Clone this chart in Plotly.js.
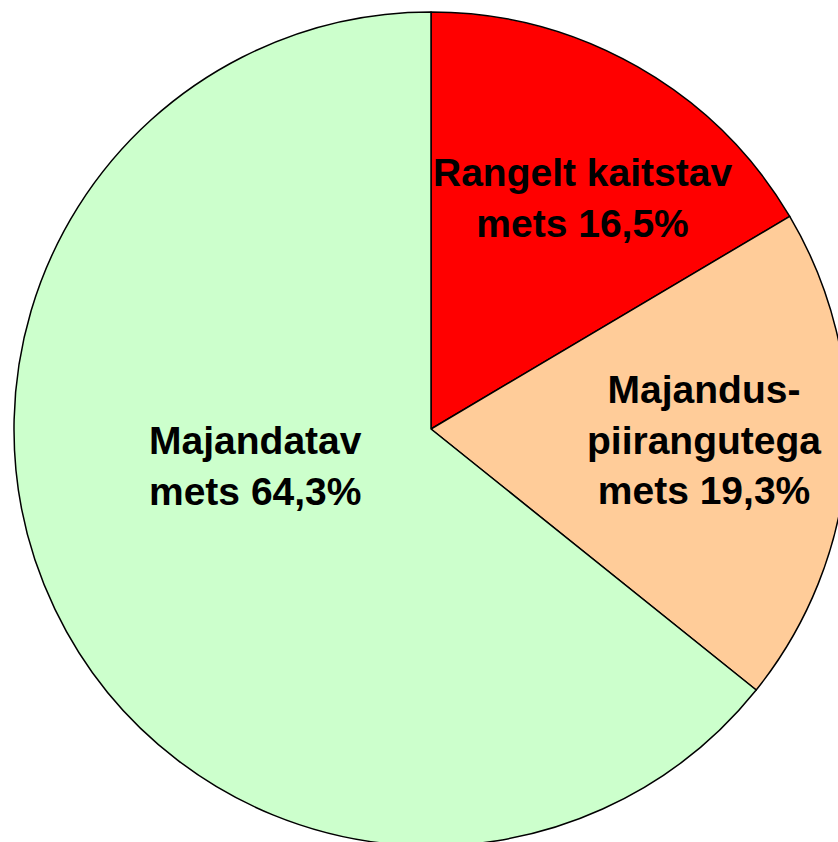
<!DOCTYPE html>
<html>
<head>
<meta charset="utf-8">
<script src="https://cdn.plot.ly/plotly-3.0.1.min.js"></script>
<style>
html, body { margin: 0; padding: 0; overflow: hidden; background: #fff; }
#chart { width: 862px; height: 858px; }
</style>
</head>
<body>
<div id="chart"></div>
<script>
const categories = ["Rangelt kaitstav mets", "Majanduspiirangutega mets", "Majandatav mets"];
const shares = [16.5, 19.3, 64.3];
const labelTexts = ["Rangelt kaitstav<br>mets 16,5%", "Majandus-<br>piirangutega<br>mets 19,3%", "Majandatav<br>mets 64,3%"];
const colors = ["#FF0000", "#FFCC99", "#CCFFCC"];

// label positions in pixels (style only)
const labelPx = [[582, 198], [704, 440], [256, 466]];
const W = 862, H = 858, ML = 14, MT = 12, PW = 834, PH = 834;

const annotations = labelTexts.map((t, i) => ({
  text: t,
  xref: 'paper', yref: 'paper',
  x: (labelPx[i][0] - ML) / PW,
  y: 1 - (labelPx[i][1] - MT) / PH,
  xanchor: 'center', yanchor: 'middle',
  showarrow: false,
  font: { family: 'Liberation Sans, Arial, sans-serif', size: 39, color: '#000', weight: 'bold' }
}));

Plotly.newPlot('chart', [{
  type: 'pie',
  labels: categories,
  values: shares,
  sort: false,
  direction: 'clockwise',
  rotation: 0,
  textinfo: 'none',
  hoverinfo: 'none',
  marker: { colors: colors, line: { color: '#000', width: 1.5 } },
  domain: { x: [0, 1], y: [0, 1] }
}], {
  width: W, height: H,
  margin: { l: ML, r: W - ML - PW, t: MT, b: H - MT - PH, pad: 0 },
  showlegend: false,
  paper_bgcolor: '#fff',
  annotations: annotations
}, { displayModeBar: false, staticPlot: true });
</script>
</body>
</html>
